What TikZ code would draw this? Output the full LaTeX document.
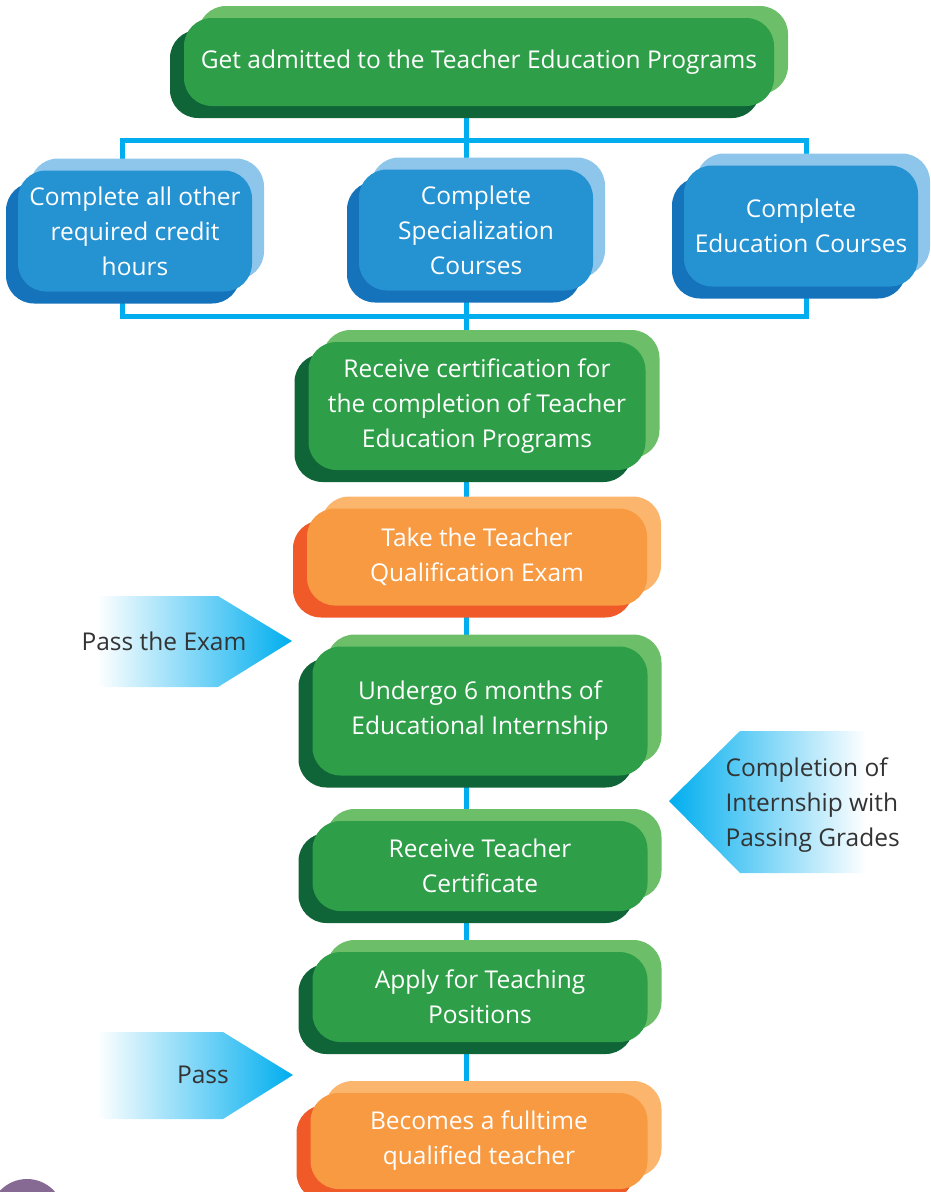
\documentclass[tikz,border=0pt]{standalone}
\usepackage{fontspec}
\setmainfont{Open Sans}
\usetikzlibrary{shadows,backgrounds}
\definecolor{gmain}{HTML}{2E9F48}
\definecolor{glight}{HTML}{6CBE69}
\definecolor{gdark}{HTML}{0F6538}
\definecolor{bmain}{HTML}{2592D2}
\definecolor{blight}{HTML}{8DC5EB}
\definecolor{bdark}{HTML}{1573BB}
\definecolor{omain}{HTML}{F79A42}
\definecolor{olight}{HTML}{FBB56C}
\definecolor{odark}{HTML}{F05A29}
\definecolor{linkc}{HTML}{00AEEF}
\definecolor{notec}{HTML}{333333}
\definecolor{dotc}{HTML}{876A93}

\begin{document}
\begin{tikzpicture}[x=1pt,y=-1pt,
    card/.style={rounded corners=28pt, text=white, align=center, inner sep=0pt,
      font=\fontsize{24.5}{35}\selectfont},
    greencard/.style={card, fill=gmain,
      general shadow={fill=glight, shadow xshift=14pt, shadow yshift=12pt},
      general shadow={fill=gdark, shadow xshift=-14pt, shadow yshift=-12pt}},
    bluecard/.style={card, fill=bmain, minimum width=234pt, minimum height=121pt,
      general shadow={fill=blight, shadow xshift=12pt, shadow yshift=12pt},
      general shadow={fill=bdark, shadow xshift=-12pt, shadow yshift=-12pt}},
    orangecard/.style={card, fill=omain,
      general shadow={fill=olight, shadow xshift=14pt, shadow yshift=12pt},
      general shadow={fill=odark, shadow xshift=-14pt, shadow yshift=-12pt}},
    link/.style={draw=linkc, line width=5pt},
    note/.style={text=notec, font=\fontsize{24.5}{35}\selectfont}]
    \useasboundingbox (0,0) rectangle (930,1192);

    % steps
    \node[greencard, minimum width=590pt, minimum height=88pt] (adm) at (479,62)
      {Get admitted to the Teacher Education Programs};
    \node[bluecard] (oth) at (135,231) {Complete all other\\required credit\\hours};
    \node[bluecard] (spe) at (476,230) {Complete\\Specialization\\Courses};
    \node[bluecard] (edu) at (801,226) {Complete\\Education Courses};
    \node[greencard, minimum width=337pt, minimum height=128pt] (cert) at (477,406)
      {Receive certification for\\the completion of Teacher\\Education Programs};
    \node[orangecard, minimum width=340pt, minimum height=97pt] (exam) at (477,557)
      {Take the Teacher\\Qualification Exam};
    \node[greencard, minimum width=335pt, minimum height=129pt] (intern) at (480,711)
      {Undergo 6 months of\\Educational Internship};
    \node[greencard, minimum width=335pt, minimum height=90pt] (tcert) at (480,866)
      {Receive Teacher\\Certificate};
    \node[greencard, minimum width=335pt, minimum height=90pt] (apply) at (480,997)
      {Apply for Teaching\\Positions};
    \node[orangecard, minimum width=337pt, minimum height=96pt] (full) at (479,1141)
      {Becomes a fulltime\\qualified teacher};

    % connectors
    \coordinate (fTL) at (122,140);
    \coordinate (fBR) at (806,316);
    \begin{scope}[on background layer]
      \draw[link] ([xshift=-13pt]adm.center) -- ([xshift=-13pt]full.center);
      \draw[link] (fTL) rectangle (fBR);
    \end{scope}

    % side arrows
    \shade[left color=white, right color=linkc]
      (97,596) -- (218,596) -- (292,641) -- (218,687) -- (97,687) -- cycle;
    \shade[left color=linkc, right color=white]
      (669,801) -- (740,731) -- (866,731) -- (866,873) -- (740,873) -- cycle;
    \shade[left color=white, right color=linkc]
      (97,1032) -- (223,1032) -- (293,1075) -- (223,1119) -- (97,1119) -- cycle;
    \node[note] (pexam) at (164,641) {Pass the Exam};
    \node[note, align=left, anchor=west] (pgrade) at (722,805)
      {Completion of\\Internship with\\Passing Grades};
    \node[note] (pass) at (203,1075) {Pass};

    \fill[dotc] (27,1216) circle (37pt);
\end{tikzpicture}
\end{document}
